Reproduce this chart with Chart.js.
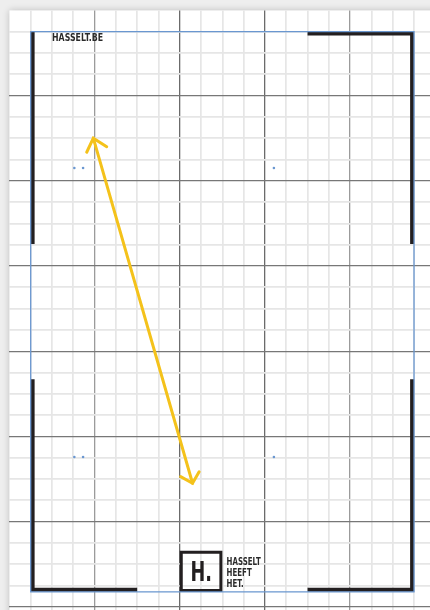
<!DOCTYPE html>
<html>
<head>
<meta charset="utf-8">
<script src="https://cdn.jsdelivr.net/npm/chart.js@4.4.1/dist/chart.umd.min.js"></script>
<style>
  body { margin: 0; background: #f0f0f0; }
  #wrap { width: 430px; height: 610px; }
</style>
</head>
<body>
<div id="wrap"><canvas id="sheet" width="430" height="610"></canvas></div>
<script>
// all values in grid cells (one small square of the sheet)
const gridX = { min: 0, max: 19.75 };
const gridY = { min: 0, max: 28.15 };
const majorEvery = 4;

const frame = [
  { x: 1, y: 1 }, { x: 19, y: 1 }, { x: 19, y: 27.3 }, { x: 1, y: 27.3 }, { x: 1, y: 1 }
];
const bracketTopLeft = [{ x: 1.09, y: 0.97 }, { x: 1.09, y: 10.97 }];
const bracketBottomLeft = [{ x: 1.09, y: 17.32 }, { x: 1.09, y: 27.2 }, { x: 6, y: 27.2 }];
const bracketBottomRight = [{ x: 14, y: 27.2 }, { x: 18.91, y: 27.2 }, { x: 18.91, y: 17.32 }];
const bracketTopRight = [{ x: 14, y: 1.09 }, { x: 18.91, y: 1.09 }, { x: 18.91, y: 10.97 }];
const logoBox = [
  { x: 8.07, y: 25.44 }, { x: 9.93, y: 25.44 }, { x: 9.93, y: 27.23 },
  { x: 8.07, y: 27.23 }, { x: 8.07, y: 25.44 }, { x: 9.93, y: 25.44 }
];
const arrowShaft = [{ x: 3.94, y: 6.0 }, { x: 8.6, y: 22.2 }];
const arrowHeadTop = [{ x: 3.63, y: 6.66 }, { x: 3.94, y: 6.0 }, { x: 4.57, y: 6.4 }];
const arrowHeadBottom = [{ x: 8.04, y: 21.89 }, { x: 8.6, y: 22.2 }, { x: 8.91, y: 21.66 }];
const marks = [
  { x: 3.05, y: 7.4 }, { x: 3.46, y: 7.4 }, { x: 12.42, y: 7.4 },
  { x: 3.05, y: 20.97 }, { x: 3.46, y: 20.97 }, { x: 12.42, y: 20.97 }
];

const siteLabel = 'HASSELT.BE';
const logoMark = 'H.';
const logoLines = ['HASSELT', 'HEEFT', 'HET.'];

const ink = '#231f20';
const blue = '#6a97d0';
const yellow = '#f4c21b';

function lineSet(data, color, width, cap) {
  return {
    data: data,
    showLine: true,
    borderColor: color,
    borderWidth: width,
    borderCapStyle: cap || 'butt',
    borderJoinStyle: 'miter',
    pointRadius: 0,
    pointHoverRadius: 0,
    tension: 0,
    fill: false
  };
}

// draws text squeezed to a given width in grid cells
function fitText(ctx, scales, text, x, y, w, font) {
  const px = scales.x.getPixelForValue(x);
  const py = scales.y.getPixelForValue(y);
  const pw = scales.x.getPixelForValue(x + w) - px;
  ctx.font = font;
  const k = pw / ctx.measureText(text).width;
  ctx.save();
  ctx.translate(px, py);
  ctx.scale(k, 1);
  ctx.fillText(text, 0, 0);
  ctx.restore();
  return k;
}

const paper = {
  id: 'paper',
  beforeDraw(chart) {
    const { ctx, chartArea } = chart;
    ctx.save();
    ctx.fillStyle = '#eeeeee';
    ctx.fillRect(0, 0, chart.width, chart.height);
    ctx.shadowColor = 'rgba(0,0,0,0.22)';
    ctx.shadowBlur = 7;
    ctx.fillStyle = '#ffffff';
    ctx.fillRect(chartArea.left, chartArea.top, chart.width + 20, chart.height + 20);
    ctx.restore();
  }
};

const labels = {
  id: 'labels',
  afterDatasetsDraw(chart) {
    const { ctx, scales } = chart;
    ctx.save();
    ctx.fillStyle = '#2a2a2a';
    ctx.textBaseline = 'alphabetic';
    fitText(ctx, scales, siteLabel, 2.0, 1.42, 2.4, 'bold 10px "DejaVu Sans"');

    ctx.fillStyle = ink;
    fitText(ctx, scales, logoMark, 8.5, 26.77, 1.01, 'bold 26px "DejaVu Sans"');

    ctx.fillStyle = '#2a2a2a';
    const k = fitText(ctx, scales, logoLines[0], 10.2, 26.02, 1.6, 'bold 10px "DejaVu Sans"');
    const rows = [26.54, 27.06];
    for (let i = 1; i < logoLines.length; i++) {
      ctx.save();
      ctx.translate(scales.x.getPixelForValue(10.2), scales.y.getPixelForValue(rows[i - 1]));
      ctx.scale(k, 1);
      ctx.fillText(logoLines[i], 0, 0);
      ctx.restore();
    }
    ctx.restore();
  }
};

function gridColor(c, isX) {
  const v = c.tick.value;
  if (v === 0) return 'rgba(0,0,0,0)';
  if (v % majorEvery === 0) {
    if (isX) return (v / majorEvery) % 4 === 1 || (v / majorEvery) % 4 === 0 ? '#9b9b9b' : '#6b6b6b';
    return '#777777';
  }
  return '#e6e6e6';
}

function gridWidth(c) {
  return c.tick.value % majorEvery === 0 ? 1.3 : 1.7;
}

new Chart(document.getElementById('sheet'), {
  type: 'scatter',
  data: {
    datasets: [
      lineSet(frame, blue, 1.3),
      lineSet(bracketTopLeft, ink, 4),
      lineSet(bracketBottomLeft, ink, 4),
      lineSet(bracketBottomRight, ink, 4),
      lineSet(bracketTopRight, ink, 4),
      lineSet(logoBox, ink, 3),
      lineSet(arrowShaft, yellow, 3, 'round'),
      lineSet(arrowHeadTop, yellow, 3, 'round'),
      lineSet(arrowHeadBottom, yellow, 3, 'round'),
      {
        data: marks,
        showLine: false,
        pointRadius: 1.3,
        pointBorderWidth: 0,
        pointBackgroundColor: blue
      }
    ]
  },
  options: {
    responsive: false,
    animation: false,
    devicePixelRatio: 1,
    layout: { autoPadding: false, padding: { left: 9.4, top: 10.4, right: 0, bottom: 0 } },
    plugins: {
      legend: { display: false },
      tooltip: { enabled: false }
    },
    events: [],
    scales: {
      x: {
        type: 'linear',
        min: gridX.min,
        max: gridX.max,
        border: { display: false },
        ticks: { display: false, stepSize: 1, includeBounds: false },
        grid: {
          drawTicks: false,
          color: (c) => gridColor(c, true),
          lineWidth: gridWidth
        }
      },
      y: {
        type: 'linear',
        reverse: true,
        min: gridY.min,
        max: gridY.max,
        border: { display: false },
        ticks: { display: false, stepSize: 1, includeBounds: false },
        grid: {
          drawTicks: false,
          color: (c) => gridColor(c, false),
          lineWidth: gridWidth
        }
      }
    }
  },
  plugins: [paper, labels]
});
</script>
</body>
</html>
